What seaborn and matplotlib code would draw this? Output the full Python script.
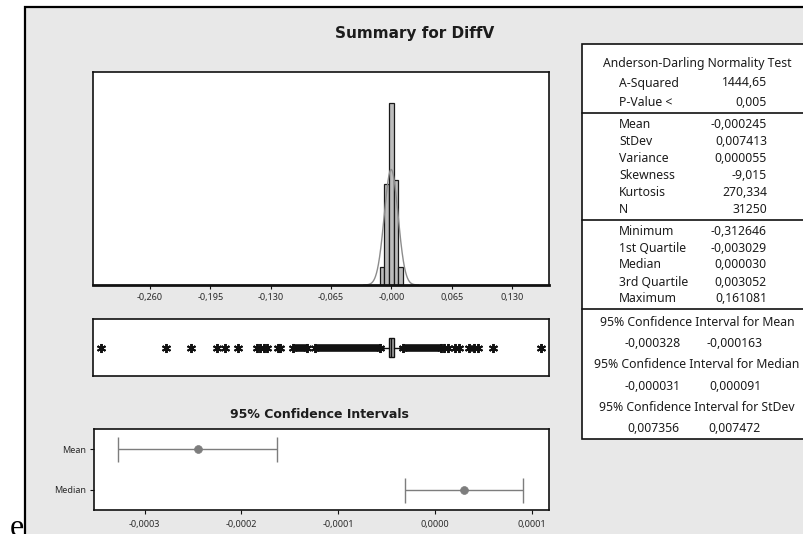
import numpy as np
import matplotlib
matplotlib.use("Agg")
import matplotlib.pyplot as plt
import seaborn as sns
from matplotlib.patches import Rectangle
from matplotlib.lines import Line2D

# ---- histogram of DiffV: bin centres and counts ----
bin_centres = [-0.010, -0.005, 0.000, 0.005, 0.010]
bin_counts = [1310, 7340, 13280, 7630, 1310]
bin_width = 0.005

hist_ticks = [-0.260, -0.195, -0.130, -0.065, 0.0, 0.065, 0.130]
hist_tick_labels = ["-0,260", "-0,195", "-0,130", "-0,065", "-0,000", "0,065", "0,130"]

# ---- descriptive statistics ----
n_obs = 31250
mean_val = -0.000245
stdev_val = 0.007413
q1_val = -0.003029
median_val = 0.000030
q3_val = 0.003052
min_val = -0.312646
max_val = 0.161081
whisker_low = -0.0121
whisker_high = 0.0121

# isolated outliers, and runs where outliers are packed edge to edge
outlier_points = [min_val, -0.2428, -0.2158, -0.1882, -0.1792, -0.1649,
                  -0.1445, -0.1410, -0.1375, -0.1340,
                  0.0570, 0.0610, 0.0690, 0.0730, 0.0840, 0.0885, 0.0930,
                  0.1098, max_val]
outlier_runs = [(-0.1222, -0.1195), (-0.1060, -0.0905), (-0.0820, -0.0122),
                (0.0122, 0.0530)]

# ---- 95% confidence intervals ----
ci_labels = ["Mean", "Median"]
ci_centres = [mean_val, median_val]
ci_lower = [-0.000328, -0.000031]
ci_upper = [-0.000163, 0.000091]
ci_ticks = [-0.0003, -0.0002, -0.0001, 0.0, 0.0001]
ci_tick_labels = ["-0,0003", "-0,0002", "-0,0001", "0,0000", "0,0001"]

# ---- summary table ----
ad_title = "Anderson-Darling Normality Test"
ad_rows = [("A-Squared", "1444,65"), ("P-Value <", "0,005")]
moment_rows = [("Mean", "-0,000245"), ("StDev", "0,007413"), ("Variance", "0,000055"),
               ("Skewness", "-9,015"), ("Kurtosis", "270,334"), ("N", "31250")]
quantile_rows = [("Minimum", "-0,312646"), ("1st Quartile", "-0,003029"),
                 ("Median", "0,000030"), ("3rd Quartile", "0,003052"),
                 ("Maximum", "0,161081")]
interval_rows = [("95% Confidence Interval for Mean", "-0,000328", "-0,000163"),
                 ("95% Confidence Interval for Median", "-0,000031", "0,000091"),
                 ("95% Confidence Interval for StDev", "0,007356", "0,007472")]

# ---------------------------------------------------------------------------
sns.set_theme(style="white")
plt.rcParams["font.family"] = ["Noto Sans", "DejaVu Sans"]

W, H = 804, 534
fig = plt.figure(figsize=(W / 100, H / 100), dpi=100)
fig.patch.set_facecolor("white")


def fx(px):
    return px / W


def fy(py):
    return 1 - py / H


def axes_box(left, top, right, bottom):
    return [fx(left), fy(bottom), fx(right) - fx(left), fy(top) - fy(bottom)]


PANEL = "#e8e8e8"
INK = "#1c1c1c"
BOLD = dict(family="DejaVu Sans", fontweight="bold")

# grey panel behind everything
fig.patches.append(Rectangle((fx(25), fy(540)), 1.0, fy(7) - fy(540),
                             transform=fig.transFigure, facecolor=PANEL,
                             edgecolor="black", linewidth=1.6, zorder=-10))

fig.text(fx(10), fy(536), "e", family="Liberation Serif", fontsize=23,
         color="black", va="baseline", ha="left")

fig.text(fx(415), fy(38), "Summary for DiffV", fontsize=11, color=INK,
         ha="center", va="baseline", **BOLD)


def style_frame(ax):
    ax.set_facecolor("white")
    ax.set_zorder(2)
    for side in ("top", "bottom", "left", "right"):
        ax.spines[side].set_visible(True)
        ax.spines[side].set_color("#111111")
        ax.spines[side].set_linewidth(1.2)


x_lo, x_hi = -0.3211, 0.1701

# ---- histogram with fitted normal curve ----
ax_h = fig.add_axes(axes_box(93.3, 72.3, 549.3, 285))
style_frame(ax_h)
edges = [c - bin_width / 2 for c in bin_centres] + [bin_centres[-1] + bin_width / 2]
sns.histplot(x=bin_centres, weights=bin_counts, bins=edges, ax=ax_h,
             color="#bcbcbc", edgecolor="#1a1a1a", linewidth=0.9, alpha=1.0)
xs = np.linspace(mean_val - 4 * stdev_val, mean_val + 4 * stdev_val, 400)
dens = n_obs * bin_width / (stdev_val * np.sqrt(2 * np.pi)) * np.exp(-0.5 * ((xs - mean_val) / stdev_val) ** 2)
sns.lineplot(x=xs, y=dens, ax=ax_h, color="#8c8c8c", linewidth=1.0)
ax_h.set_xlim(x_lo, x_hi)
ax_h.set_ylim(0, 15480)
ax_h.set_yticks([])
ax_h.set_xticks(hist_ticks, hist_tick_labels)
ax_h.spines["bottom"].set_linewidth(2.0)
ax_h.tick_params(axis="x", direction="out", length=3, width=0.8, colors="#111111",
                 labelsize=6.5, labelcolor="#2a2a2a", pad=2.5, bottom=True)
ax_h.set_xlabel("")
ax_h.set_ylabel("")

# ---- boxplot with outliers ----
ax_b = fig.add_axes(axes_box(93.3, 319.3, 549.3, 375.7))
style_frame(ax_b)
box_stats = [dict(med=median_val, q1=q1_val, q3=q3_val,
                  whislo=whisker_low, whishi=whisker_high, fliers=[])]
bxp_kw = dict(positions=[0], widths=0.33, patch_artist=True, showcaps=False,
              showfliers=False,
              boxprops=dict(facecolor="#a8a8a8", edgecolor="#111111", linewidth=1.0),
              medianprops=dict(color="#111111", linewidth=1.0),
              whiskerprops=dict(color="#111111", linewidth=1.0))
try:
    ax_b.bxp(box_stats, orientation="horizontal", **bxp_kw)
except TypeError:
    ax_b.bxp(box_stats, vert=False, **bxp_kw)
star = dict(linestyle="none", marker=(6, 2, 0), markersize=6.5,
            markeredgewidth=1.4, color="#111111")
ax_b.plot(outlier_points, [0] * len(outlier_points), **star)
for lo, hi in outlier_runs:
    ax_b.hlines(0, lo, hi, color="#111111", linewidth=5.5)
    ax_b.plot([lo, hi], [0, 0], **star)
ax_b.set_xlim(x_lo, x_hi)
ax_b.set_ylim(-0.5, 0.5)
ax_b.set_xticks([])
ax_b.set_yticks([])

# ---- confidence intervals ----
fig.text(fx(319), fy(415), "95% Confidence Intervals", fontsize=9,
         color=INK, ha="center", va="center", **BOLD)
ax_c = fig.add_axes(axes_box(93.6, 428.6, 549.0, 510.4))
style_frame(ax_c)
ypos = [0, 1]
xerr = [[c - lo for c, lo in zip(ci_centres, ci_lower)],
        [hi - c for c, hi in zip(ci_centres, ci_upper)]]
ax_c.errorbar(ci_centres, ypos, xerr=xerr, fmt="none", ecolor="#7d7d7d",
              elinewidth=1.0, capsize=9, capthick=1.0)
sns.scatterplot(x=ci_centres, y=ypos, ax=ax_c, color="#7d7d7d", s=32,
                edgecolor="#7d7d7d", linewidth=0.5, zorder=3)
ax_c.set_xlim(-0.0003527, 0.0001175)
ax_c.set_ylim(1.5, -0.5)
ax_c.set_xticks(ci_ticks, ci_tick_labels)
ax_c.set_yticks(ypos, ci_labels)
ax_c.tick_params(axis="both", direction="out", length=3, width=0.8, colors="#111111",
                 labelsize=6.5, labelcolor="#2a2a2a", pad=2.5, bottom=True, left=True)
ax_c.tick_params(axis="x", pad=4)

# ---- summary table ----
fig.patches.append(Rectangle((fx(582.5), fy(439)), 1.0, fy(44) - fy(439),
                             transform=fig.transFigure, facecolor="white",
                             edgecolor="#111111", linewidth=1.2, zorder=1))
for sep_y in (112.5, 219.5, 309.0):
    fig.add_artist(Line2D([fx(582.5), 1.0], [fy(sep_y), fy(sep_y)],
                          transform=fig.transFigure, color="#111111", linewidth=1.2))

TFS = 8.8
label_x, value_x = 619, 767
fig.text(fx(697), fy(63), ad_title, fontsize=TFS, color=INK, ha="center", va="center")

ad_y = [83, 102]
moment_y = [124.5, 141.5, 158.5, 175.5, 192.5, 209.5]
quantile_y = [231, 248, 265, 282, 299]
for rows, ys in ((ad_rows, ad_y), (moment_rows, moment_y), (quantile_rows, quantile_y)):
    for (lab, val), y in zip(rows, ys):
        fig.text(fx(label_x), fy(y), lab, fontsize=TFS, color=INK, ha="left", va="center")
        fig.text(fx(value_x), fy(y), val, fontsize=TFS, color=INK, ha="right", va="center")

interval_title_y = [322, 365, 407.5]
interval_value_y = [343.5, 386.5, 428]
for (title, lo_txt, hi_txt), ty, vy in zip(interval_rows, interval_title_y, interval_value_y):
    fig.text(fx(697), fy(ty), title, fontsize=TFS, color=INK, ha="center", va="center")
    fig.text(fx(653), fy(vy), lo_txt, fontsize=TFS, color=INK, ha="center", va="center")
    fig.text(fx(735), fy(vy), hi_txt, fontsize=TFS, color=INK, ha="center", va="center")

fig.savefig("out.png", dpi=100, facecolor="white")
